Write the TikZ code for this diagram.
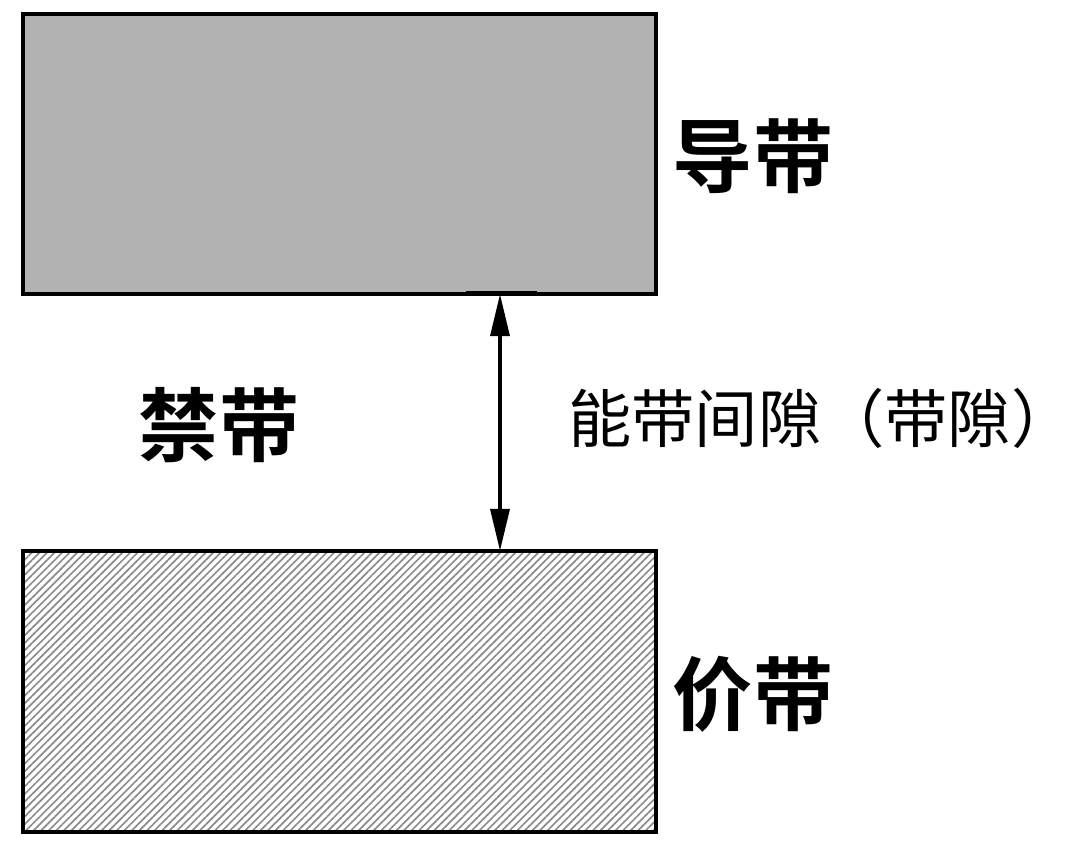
\documentclass[tikz,border=0pt]{standalone}
\usepackage{fontspec}
\newfontfamily\cjk{Noto Sans CJK SC}[BoldFont={Noto Sans CJK SC Bold}]
\usetikzlibrary{arrows.meta, patterns.meta}

\begin{document}
\begin{tikzpicture}[x=0.025cm, y=-0.025cm, >={Triangle[length=30pt, width=13.5pt]},
                band/.style={draw=black, line width=2.5pt, minimum width=15.825cm, inner sep=0pt},
                bandname/.style={font=\cjk\bfseries\fontsize{57}{60}\selectfont},
                gapname/.style={font=\cjk\fontsize{45}{50}\selectfont, inner sep=0pt, anchor=west}]

                \useasboundingbox[fill=white] (0,0) rectangle (1080,849);

                % Define the bands
                \node[band, minimum height=7cm, fill=black!30] (cb) at (339.5,154) {};
                \node[band, minimum height=7.025cm, pattern={Lines[angle=45, distance=3.8pt, line width=1.2pt]}, pattern color=black!45] (vb) at (339.5,691.5) {};

                % Band labels
                \node[bandname] (cbname) at (753,156) {导带};
                \node[bandname] (vbname) at (753,694) {价带};
                \node[bandname] (fbname) at (219,425) {禁带};
                \node[gapname] (gapname) at (568,418) {能带间隙（带隙）};

                % Gap arrow with its end marks
                \coordinate (gtop) at (500,294);
                \coordinate (gbot) at (500,551);
                \coordinate (gtopl) at (466,292);
                \coordinate (gtopr) at (537,292);
                \coordinate (gbotl) at (466,550);
                \coordinate (gbotr) at (537,550);

                \draw[line width=1.5pt] (gtopl) -- (gtopr);
                \draw[line width=1.5pt] (gbotl) -- (gbotr);
                \draw[<->, line width=2.6pt] (gtop) -- (gbot);

            \end{tikzpicture}
\end{document}
